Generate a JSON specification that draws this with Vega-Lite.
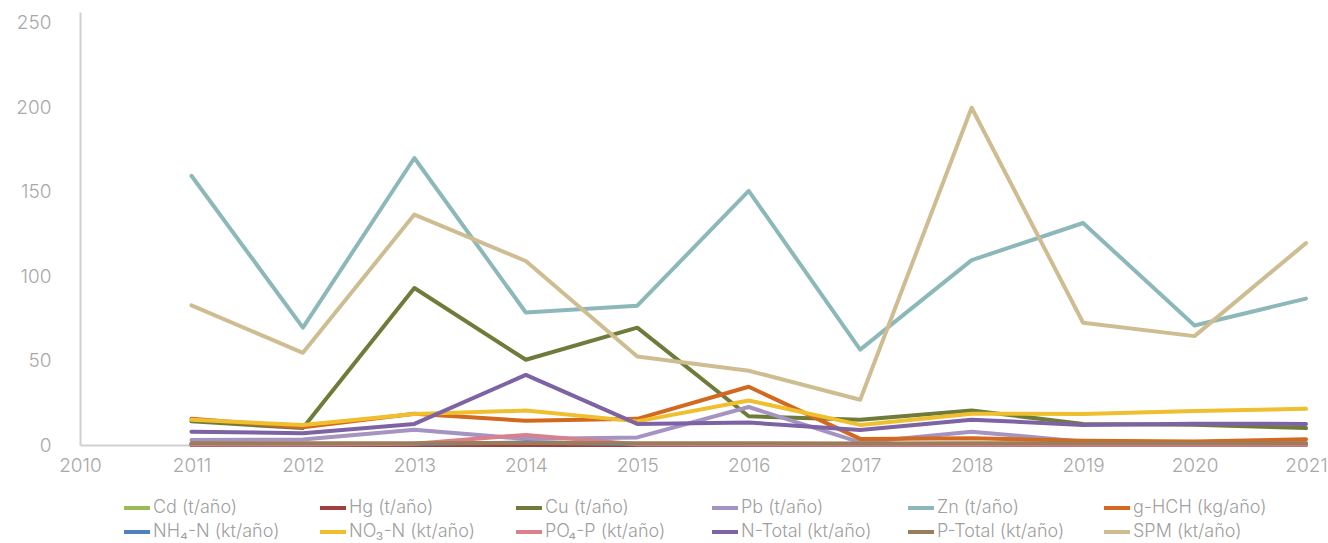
{
  "$schema": "https://vega.github.io/schema/vega-lite/v6.json",
  "width": 1226,
  "height": 433,
  "autosize": {"type": "none"},
  "padding": {"left": 80, "top": 12, "right": 22, "bottom": 98},
  "background": "white",
  "config": {
    "view": {"stroke": null},
    "font": "Inter",
    "axis": {"labelFont": "Inter", "labelFontWeight": 300, "labelColor": "#a8a8a8", "labelFontSize": 19, "grid": false, "ticks": false, "domainColor": "#d0d0d0", "domainWidth": 2, "title": null},
    "legend": {"labelFont": "Inter", "labelFontWeight": 300, "labelColor": "#a0a0a0", "labelFontSize": 18}
  },
  "data": {"values": [
    {"year": 2011, "series": "Cd (t/año)", "value": 0.1},
    {"year": 2012, "series": "Cd (t/año)", "value": 0.1},
    {"year": 2013, "series": "Cd (t/año)", "value": 0.1},
    {"year": 2014, "series": "Cd (t/año)", "value": 0.1},
    {"year": 2015, "series": "Cd (t/año)", "value": 0.1},
    {"year": 2016, "series": "Cd (t/año)", "value": 0.1},
    {"year": 2017, "series": "Cd (t/año)", "value": 0.1},
    {"year": 2018, "series": "Cd (t/año)", "value": 0.1},
    {"year": 2019, "series": "Cd (t/año)", "value": 0.1},
    {"year": 2020, "series": "Cd (t/año)", "value": 0.1},
    {"year": 2021, "series": "Cd (t/año)", "value": 0.1},
    {"year": 2011, "series": "Hg (t/año)", "value": 0.05},
    {"year": 2012, "series": "Hg (t/año)", "value": 0.05},
    {"year": 2013, "series": "Hg (t/año)", "value": 0.05},
    {"year": 2014, "series": "Hg (t/año)", "value": 0.05},
    {"year": 2015, "series": "Hg (t/año)", "value": 0.05},
    {"year": 2016, "series": "Hg (t/año)", "value": 0.05},
    {"year": 2017, "series": "Hg (t/año)", "value": 0.05},
    {"year": 2018, "series": "Hg (t/año)", "value": 0.05},
    {"year": 2019, "series": "Hg (t/año)", "value": 0.05},
    {"year": 2020, "series": "Hg (t/año)", "value": 0.05},
    {"year": 2021, "series": "Hg (t/año)", "value": 0.05},
    {"year": 2011, "series": "Cu (t/año)", "value": 14},
    {"year": 2012, "series": "Cu (t/año)", "value": 10},
    {"year": 2013, "series": "Cu (t/año)", "value": 93},
    {"year": 2014, "series": "Cu (t/año)", "value": 50.5},
    {"year": 2015, "series": "Cu (t/año)", "value": 69.5},
    {"year": 2016, "series": "Cu (t/año)", "value": 17},
    {"year": 2017, "series": "Cu (t/año)", "value": 15},
    {"year": 2018, "series": "Cu (t/año)", "value": 20.4},
    {"year": 2019, "series": "Cu (t/año)", "value": 12.5},
    {"year": 2020, "series": "Cu (t/año)", "value": 12},
    {"year": 2021, "series": "Cu (t/año)", "value": 10},
    {"year": 2011, "series": "Pb (t/año)", "value": 3},
    {"year": 2012, "series": "Pb (t/año)", "value": 3.2},
    {"year": 2013, "series": "Pb (t/año)", "value": 9},
    {"year": 2014, "series": "Pb (t/año)", "value": 3.6},
    {"year": 2015, "series": "Pb (t/año)", "value": 4.5},
    {"year": 2016, "series": "Pb (t/año)", "value": 22.5},
    {"year": 2017, "series": "Pb (t/año)", "value": 1.5},
    {"year": 2018, "series": "Pb (t/año)", "value": 7.9},
    {"year": 2019, "series": "Pb (t/año)", "value": 2},
    {"year": 2020, "series": "Pb (t/año)", "value": 1},
    {"year": 2021, "series": "Pb (t/año)", "value": 1},
    {"year": 2011, "series": "Zn (t/año)", "value": 159.5},
    {"year": 2012, "series": "Zn (t/año)", "value": 69.5},
    {"year": 2013, "series": "Zn (t/año)", "value": 170},
    {"year": 2014, "series": "Zn (t/año)", "value": 78.5},
    {"year": 2015, "series": "Zn (t/año)", "value": 82.5},
    {"year": 2016, "series": "Zn (t/año)", "value": 150.5},
    {"year": 2017, "series": "Zn (t/año)", "value": 56.5},
    {"year": 2018, "series": "Zn (t/año)", "value": 109.5},
    {"year": 2019, "series": "Zn (t/año)", "value": 131.5},
    {"year": 2020, "series": "Zn (t/año)", "value": 70.8},
    {"year": 2021, "series": "Zn (t/año)", "value": 86.7},
    {"year": 2011, "series": "g-HCH (kg/año)", "value": 15.5},
    {"year": 2012, "series": "g-HCH (kg/año)", "value": 10.5},
    {"year": 2013, "series": "g-HCH (kg/año)", "value": 18.5},
    {"year": 2014, "series": "g-HCH (kg/año)", "value": 14.3},
    {"year": 2015, "series": "g-HCH (kg/año)", "value": 15.5},
    {"year": 2016, "series": "g-HCH (kg/año)", "value": 34.5},
    {"year": 2017, "series": "g-HCH (kg/año)", "value": 3.6},
    {"year": 2018, "series": "g-HCH (kg/año)", "value": 4},
    {"year": 2019, "series": "g-HCH (kg/año)", "value": 2.5},
    {"year": 2020, "series": "g-HCH (kg/año)", "value": 2},
    {"year": 2021, "series": "g-HCH (kg/año)", "value": 3.4},
    {"year": 2011, "series": "NH₄-N (kt/año)", "value": 0.5},
    {"year": 2012, "series": "NH₄-N (kt/año)", "value": 0.5},
    {"year": 2013, "series": "NH₄-N (kt/año)", "value": 0.6},
    {"year": 2014, "series": "NH₄-N (kt/año)", "value": 1.5},
    {"year": 2015, "series": "NH₄-N (kt/año)", "value": 0.5},
    {"year": 2016, "series": "NH₄-N (kt/año)", "value": 0.5},
    {"year": 2017, "series": "NH₄-N (kt/año)", "value": 0.4},
    {"year": 2018, "series": "NH₄-N (kt/año)", "value": 0.4},
    {"year": 2019, "series": "NH₄-N (kt/año)", "value": 0.4},
    {"year": 2020, "series": "NH₄-N (kt/año)", "value": 0.4},
    {"year": 2021, "series": "NH₄-N (kt/año)", "value": 0.4},
    {"year": 2011, "series": "NO₃-N (kt/año)", "value": 14.9},
    {"year": 2012, "series": "NO₃-N (kt/año)", "value": 11.9},
    {"year": 2013, "series": "NO₃-N (kt/año)", "value": 18.3},
    {"year": 2014, "series": "NO₃-N (kt/año)", "value": 20.4},
    {"year": 2015, "series": "NO₃-N (kt/año)", "value": 14},
    {"year": 2016, "series": "NO₃-N (kt/año)", "value": 26.4},
    {"year": 2017, "series": "NO₃-N (kt/año)", "value": 11.9},
    {"year": 2018, "series": "NO₃-N (kt/año)", "value": 18.5},
    {"year": 2019, "series": "NO₃-N (kt/año)", "value": 18.4},
    {"year": 2020, "series": "NO₃-N (kt/año)", "value": 20.2},
    {"year": 2021, "series": "NO₃-N (kt/año)", "value": 21.4},
    {"year": 2011, "series": "PO₄-P (kt/año)", "value": 0.3},
    {"year": 2012, "series": "PO₄-P (kt/año)", "value": 0.3},
    {"year": 2013, "series": "PO₄-P (kt/año)", "value": 0.8},
    {"year": 2014, "series": "PO₄-P (kt/año)", "value": 6},
    {"year": 2015, "series": "PO₄-P (kt/año)", "value": 0.5},
    {"year": 2016, "series": "PO₄-P (kt/año)", "value": 0.3},
    {"year": 2017, "series": "PO₄-P (kt/año)", "value": 0.2},
    {"year": 2018, "series": "PO₄-P (kt/año)", "value": 0.2},
    {"year": 2019, "series": "PO₄-P (kt/año)", "value": 0.2},
    {"year": 2020, "series": "PO₄-P (kt/año)", "value": 0.2},
    {"year": 2021, "series": "PO₄-P (kt/año)", "value": 0.2},
    {"year": 2011, "series": "N-Total (kt/año)", "value": 7.9},
    {"year": 2012, "series": "N-Total (kt/año)", "value": 7},
    {"year": 2013, "series": "N-Total (kt/año)", "value": 12.5},
    {"year": 2014, "series": "N-Total (kt/año)", "value": 41.5},
    {"year": 2015, "series": "N-Total (kt/año)", "value": 12.5},
    {"year": 2016, "series": "N-Total (kt/año)", "value": 13.3},
    {"year": 2017, "series": "N-Total (kt/año)", "value": 8.9},
    {"year": 2018, "series": "N-Total (kt/año)", "value": 15},
    {"year": 2019, "series": "N-Total (kt/año)", "value": 11.9},
    {"year": 2020, "series": "N-Total (kt/año)", "value": 12.6},
    {"year": 2021, "series": "N-Total (kt/año)", "value": 12.5},
    {"year": 2011, "series": "P-Total (kt/año)", "value": 1},
    {"year": 2012, "series": "P-Total (kt/año)", "value": 1},
    {"year": 2013, "series": "P-Total (kt/año)", "value": 1.1},
    {"year": 2014, "series": "P-Total (kt/año)", "value": 1.2},
    {"year": 2015, "series": "P-Total (kt/año)", "value": 1.1},
    {"year": 2016, "series": "P-Total (kt/año)", "value": 1},
    {"year": 2017, "series": "P-Total (kt/año)", "value": 0.9},
    {"year": 2018, "series": "P-Total (kt/año)", "value": 1},
    {"year": 2019, "series": "P-Total (kt/año)", "value": 1},
    {"year": 2020, "series": "P-Total (kt/año)", "value": 1},
    {"year": 2021, "series": "P-Total (kt/año)", "value": 1},
    {"year": 2011, "series": "SPM (kt/año)", "value": 82.7},
    {"year": 2012, "series": "SPM (kt/año)", "value": 54.6},
    {"year": 2013, "series": "SPM (kt/año)", "value": 136.5},
    {"year": 2014, "series": "SPM (kt/año)", "value": 109},
    {"year": 2015, "series": "SPM (kt/año)", "value": 52.4},
    {"year": 2016, "series": "SPM (kt/año)", "value": 44},
    {"year": 2017, "series": "SPM (kt/año)", "value": 26.8},
    {"year": 2018, "series": "SPM (kt/año)", "value": 199.8},
    {"year": 2019, "series": "SPM (kt/año)", "value": 72.4},
    {"year": 2020, "series": "SPM (kt/año)", "value": 64.5},
    {"year": 2021, "series": "SPM (kt/año)", "value": 119.6}
  ]},
  "mark": {"type": "line", "strokeWidth": 4, "strokeCap": "round", "strokeJoin": "round", "clip": false},
  "encoding": {
    "x": {
      "field": "year", "type": "quantitative",
      "scale": {"domain": [2010, 2021], "nice": false, "zero": false},
      "axis": {"values": [2010, 2011, 2012, 2013, 2014, 2015, 2016, 2017, 2018, 2019, 2020, 2021], "format": "d", "labelPadding": 11, "labelDx": 6, "labelFlush": false, "labelOverlap": false}
    },
    "y": {
      "field": "value", "type": "quantitative",
      "scale": {"domain": [0, 256.5], "nice": false},
      "axis": {"values": [0, 50, 100, 150, 200, 250], "labelPadding": 29, "labelFlush": false}
    },
    "color": {
      "field": "series", "type": "nominal",
      "scale": {
        "domain": ["Cd (t/año)", "Hg (t/año)", "Cu (t/año)", "Pb (t/año)", "Zn (t/año)", "g-HCH (kg/año)", "NH₄-N (kt/año)", "NO₃-N (kt/año)", "PO₄-P (kt/año)", "N-Total (kt/año)", "P-Total (kt/año)", "SPM (kt/año)"],
        "range": ["#9bbb59", "#a0403c", "#6e7b39", "#a593c1", "#8db8b9", "#d2691f", "#4f81bd", "#efbf2f", "#d9808a", "#7d63a4", "#9a7d5a", "#cfbd92"]
      },
      "legend": {
        "orient": "none", "legendX": 42, "legendY": 481, "direction": "horizontal", "columns": 6,
        "title": null, "symbolType": "stroke", "symbolSize": 676, "symbolStrokeWidth": 4,
        "labelOffset": 1, "columnPadding": 25, "rowPadding": 0, "gridAlign": "all", "padding": 0, "labelLimit": 300
      }
    }
  }
}
